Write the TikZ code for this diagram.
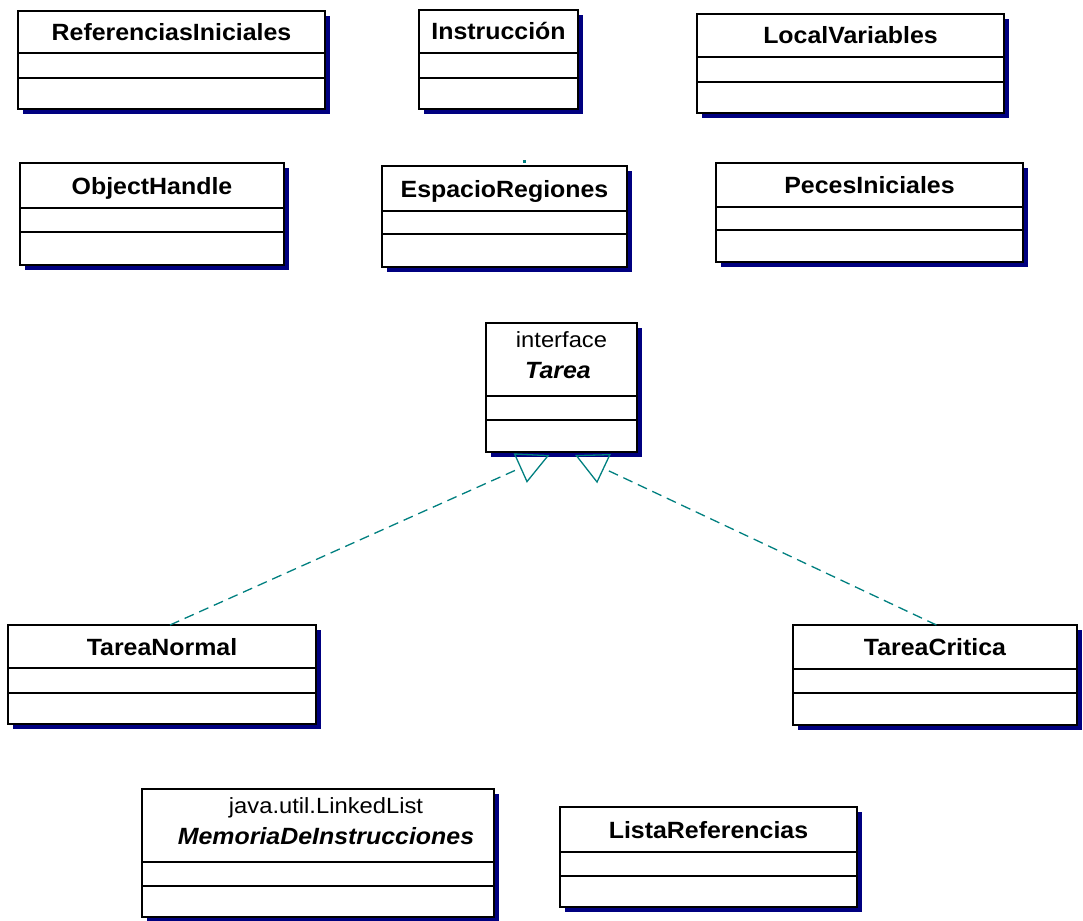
\documentclass[tikz,border=0pt]{standalone}
\usepackage{fontspec}
\newfontfamily\umlsans[FakeStretch=1.06]{Liberation Sans}
\newfontfamily\umlsanslight[FakeStretch=1.08]{Liberation Sans}
\usetikzlibrary{arrows.meta,calc,shadows}

\definecolor{shadownavy}{RGB}{0,0,128}
\definecolor{linkteal}{RGB}{0,128,128}

\tikzset{
  umlbox/.style={draw=black, line width=1.3pt, fill=white, inner sep=0pt, outer sep=0pt,
    anchor=north west,
    general shadow={fill=shadownavy, shadow xshift=5pt, shadow yshift=-5pt}},
  umlrule/.style={draw=black, line width=1.1pt},
  classname/.style={font=\umlsans\bfseries\fontsize{23.5}{28}\selectfont, anchor=base, inner sep=0pt},
  abstractname/.style={font=\umlsans\bfseries\itshape\fontsize{23.5}{28}\selectfont, anchor=base, inner sep=0pt},
  stereotype/.style={font=\umlsanslight\fontsize{22}{26}\selectfont, anchor=base, inner sep=0pt},
  realize/.style={draw=linkteal, line width=1.3pt, dash pattern=on 10pt off 6pt,
    -{Triangle[open, length=32pt, width=32pt, line width=1.3pt]}},
}

% box with compartments: name, x1, y1, x2, y2, y of title rule, y of middle rule
\newcommand\umlclass[7]{%
  \node[umlbox, minimum width={(#4-#2)*1pt}, minimum height={(#5-#3)*1pt}] (#1) at (#2,#3) {};
  \draw[umlrule] (#1.west |- 0,#6) -- (#1.east |- 0,#6);
  \draw[umlrule] (#1.west |- 0,#7) -- (#1.east |- 0,#7);
}
% centred title in the top compartment: box name, y of title rule, text
\newcommand\umltitle[3]{%
  \node[classname] (#1 title) at ($(#1.north)!0.5!(#1.north |- 0,#2)+(0,8.5)$) {#3};
}

\begin{document}
\begin{tikzpicture}[x=1pt, y=-1pt]
  \useasboundingbox (0,0) rectangle (1083,920);
  \fill[white] (0,0) rectangle (1083,920);

  % first row
  \umlclass{refini}{18}{11}{325}{109}{53}{78}
  \umltitle{refini}{53}{ReferenciasIniciales}
  \umlclass{instr}{419}{10}{578}{109}{53}{78}
  \umltitle{instr}{53}{Instrucción}
  \umlclass{localvars}{697}{14}{1004}{113}{57}{82}
  \umltitle{localvars}{57}{LocalVariables}

  % second row
  \umlclass{objhandle}{20}{163}{284}{265}{208}{232}
  \umltitle{objhandle}{208}{ObjectHandle}
  \umlclass{espacio}{382}{166}{627}{267}{211}{234}
  \umltitle{espacio}{211}{EspacioRegiones}
  \umlclass{peces}{716}{163}{1023}{262}{207}{230}
  \umltitle{peces}{207}{PecesIniciales}
  \fill[linkteal] (523,160) rectangle (526,163);

  % interface
  \umlclass{tarea}{486}{323}{637}{452}{396}{420}
  \node[stereotype] (tarea stereo) at (561.5,347) {interface};
  \node[abstractname] (tarea title) at (558,378) {Tarea};

  % implementing classes
  \umlclass{tn}{8}{625}{316}{724}{668}{693}
  \umltitle{tn}{668}{TareaNormal}
  \umlclass{tc}{793}{625}{1077}{725}{669}{693}
  \umltitle{tc}{669}{TareaCritica}

  % bottom row
  \umlclass{memoria}{142}{789}{494}{917}{862}{886}
  \node[stereotype] (memoria stereo) at (326,813) {java.util.LinkedList};
  \node[abstractname] (memoria title) at (326,844) {MemoriaDeInstrucciones};
  \umlclass{lista}{560}{807}{857}{907}{852}{876}
  \umltitle{lista}{852}{ListaReferencias}

  % realizations of the interface
  \draw[realize] ($(tn.north west)!0.526!(tn.north east)$) -- ($(tarea.south west)!0.42!(tarea.south east)+(0,3)$);
  \draw[realize] ($(tc.north west)!0.505!(tc.north east)$) -- ($(tarea.south west)!0.59!(tarea.south east)+(0,3)$);
\end{tikzpicture}
\end{document}
